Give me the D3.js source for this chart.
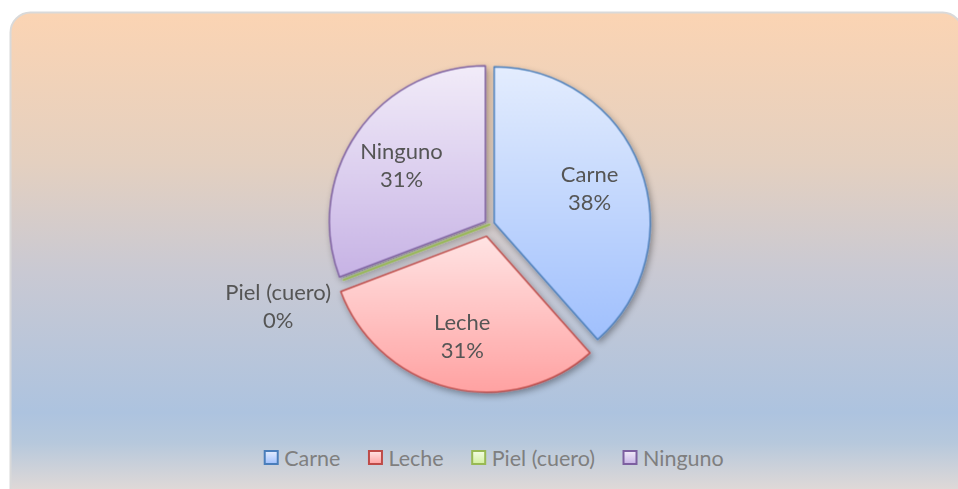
<!DOCTYPE html>
<html>
<head>
<meta charset="utf-8">
<script src="https://cdn.jsdelivr.net/npm/d3@7"></script>
<style>
	body { margin: 0; background: #fff; }
	svg { display: block; }
</style>
</head>
<body>
<script>
// data (5 / 4 / 0 / 4 answers -> 38% 31% 0% 31%)
const categories = ["Carne", "Leche", "Piel (cuero)", "Ninguno"];
const counts = [5, 4, 0, 4];

// slice styling, same order as categories
const strokeColors = ["#4a7ebb", "#be4b48", "#98b954", "#7d60a0"];
const lightColors = ["#e4edfe", "#ffe4e4", "#f4fde4", "#f2ecf9"];
const darkColors = ["#a0c0fd", "#ffa2a2", "#d2ef9f", "#c7b3e5"];
const explode = [5, 12, 0, 5];

const width = 958, height = 489;
const center = {x: 489.5, y: 224.5};
const radius = 156;
const labelRadius = 102;
const fontFamily = "Lato, 'Open Sans', sans-serif";

const svg = d3.select("body").append("svg")
	.attr("width", width)
	.attr("height", height);

const defs = svg.append("defs");

// chart area background: peach -> grey -> blue -> peach
const bg = defs.append("linearGradient")
	.attr("id", "bg")
	.attr("x1", 0).attr("y1", 0).attr("x2", 0).attr("y2", 1);
[
	[0, "#fbd4b3"],
	[0.3, "#e4d0c0"],
	[0.52, "#c9c9d3"],
	[0.8, "#adc3df"],
	[0.86, "#b6c8dc"],
	[1, "#f3e1d5"]
].forEach(s => bg.append("stop").attr("offset", s[0]).attr("stop-color", s[1]));

categories.forEach((c, i) => {
	const g = defs.append("linearGradient")
		.attr("id", "fill" + i)
		.attr("x1", 0).attr("y1", 0).attr("x2", 0).attr("y2", 1);
	g.append("stop").attr("offset", 0).attr("stop-color", lightColors[i]);
	g.append("stop").attr("offset", 1).attr("stop-color", darkColors[i]);
});

const shadow = defs.append("filter")
	.attr("id", "shadow")
	.attr("x", "-20%").attr("y", "-20%")
	.attr("width", "140%").attr("height", "140%");
shadow.append("feDropShadow")
	.attr("dx", 2).attr("dy", 3)
	.attr("stdDeviation", 3)
	.attr("flood-color", "#000")
	.attr("flood-opacity", 0.35);

svg.append("rect")
	.attr("x", 10.5)
	.attr("y", 12.5)
	.attr("width", 952)
	.attr("height", 500)
	.attr("rx", 20)
	.attr("fill", "url(#bg)")
	.attr("stroke", "#d9d9d9")
	.attr("stroke-width", 2);

const pie = d3.pie().sort(null).value(d => d);
const arcs = pie(counts);
const total = d3.sum(counts);
const pct = d3.format(".0%");

const arc = d3.arc().innerRadius(0).outerRadius(radius);
const labelArc = d3.arc().innerRadius(labelRadius).outerRadius(labelRadius);

// offset of an exploded slice along its middle angle
function offset(d, dist) {
	const a = (d.startAngle + d.endAngle) / 2;
	return {x: Math.sin(a) * dist, y: -Math.cos(a) * dist};
}

const plot = svg.append("g")
	.attr("transform", `translate(${center.x},${center.y})`);

const slices = plot.append("g").attr("filter", "url(#shadow)");

slices.selectAll("path")
	.data(arcs)
	.join("path")
	.attr("transform", (d, i) => {
		const o = offset(d, explode[i]);
		return `translate(${o.x},${o.y})`;
	})
	.attr("d", arc)
	.attr("fill", (d, i) => `url(#fill${i})`)
	.attr("stroke", (d, i) => strokeColors[i])
	.attr("stroke-width", (d, i) => d.value === 0 ? 2 : 1.5)
	.attr("stroke-linejoin", "round");

// data labels: inside for real slices, outside for the empty one
const labels = plot.append("g")
	.attr("font-family", fontFamily)
	.attr("font-size", 22)
	.attr("fill", "#555555")
	.attr("text-anchor", "middle");

arcs.forEach((d, i) => {
	let p;
	if (d.value === 0) {
		p = offset(d, radius + 70);
	} else {
		const c = labelArc.centroid(d);
		const o = offset(d, explode[i]);
		p = {x: c[0] + o.x, y: c[1] + o.y};
	}
	const t = labels.append("text")
		.attr("dominant-baseline", "central");
	t.append("tspan").attr("x", p.x).attr("y", p.y - 14).text(categories[i]);
	t.append("tspan").attr("x", p.x).attr("y", p.y + 14).text(pct(d.value / total));
});

// legend along the bottom
const legend = svg.append("g")
	.attr("font-family", fontFamily)
	.attr("font-size", 21.5)
	.attr("fill", "#7f7f7f");

const box = 13, boxGap = 7, itemGap = 28, legendY = 457.5;
let lx = 0;
const items = categories.map((c, i) => {
	const item = legend.append("g");
	item.append("rect")
		.attr("x", 0.5)
		.attr("y", -box / 2)
		.attr("width", box)
		.attr("height", box)
		.attr("fill", `url(#fill${i})`)
		.attr("stroke", strokeColors[i])
		.attr("stroke-width", 2);
	const txt = item.append("text")
		.attr("x", box + boxGap)
		.attr("dominant-baseline", "central")
		.text(c);
	const w = box + boxGap + txt.node().getComputedTextLength();
	item.attr("transform", `translate(${lx},${legendY})`);
	lx += w + itemGap;
	return item;
});
const legendWidth = lx - itemGap;
legend.attr("transform", `translate(${494 - legendWidth / 2},0)`);
</script>
</body>
</html>
